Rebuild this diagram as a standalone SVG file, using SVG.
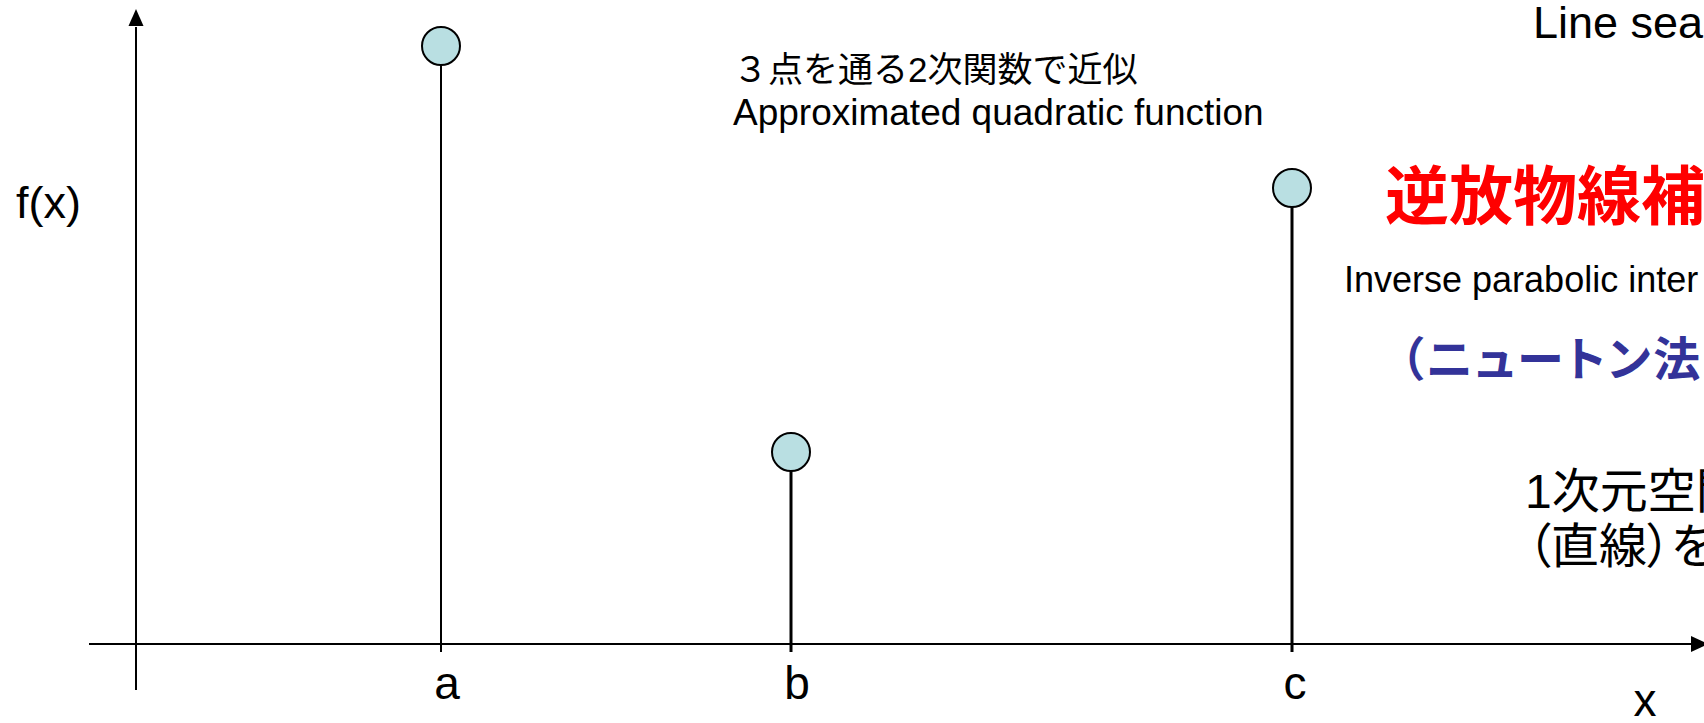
<svg xmlns="http://www.w3.org/2000/svg" width="1704" height="723" viewBox="0 0 1704 723">
<defs>
<style>
.lat{font-family:"Liberation Sans",Arial,sans-serif;fill:#000}
.jp{font-family:"Liberation Sans","Noto Sans CJK JP",sans-serif;fill:#000}
.palt{font-feature-settings:"palt" 1}
.axis{stroke:#000;stroke-width:2;fill:none}
.stem{stroke:#000;fill:none}
.pt{fill:#B9DFE2;stroke:#000;stroke-width:2}
</style>
</defs>
<rect width="1704" height="723" fill="#fff"/>
<g id="connectors">
<path d="M136,690 V27" class="axis"/>
<path d="M136,9 L143.5,26 L128.5,26 z" fill="#000"/>
<path d="M89,644 H1692" class="axis"/>
<path d="M1708,644 L1691,636 L1691,652 z" fill="#000"/>
</g>
<g id="point-a">
<line x1="441" y1="64" x2="441" y2="652" class="stem" stroke-width="2"/>
<circle cx="441" cy="46" r="19" class="pt"/>
<text x="447" y="699" class="lat" font-size="46" text-anchor="middle">a</text>
</g>
<g id="point-b">
<line x1="791" y1="470" x2="791" y2="652" class="stem" stroke-width="3"/>
<circle cx="791" cy="452" r="19" class="pt"/>
<text x="797" y="699" class="lat" font-size="46" text-anchor="middle">b</text>
</g>
<g id="point-c">
<line x1="1292" y1="206" x2="1292" y2="652" class="stem" stroke-width="3"/>
<circle cx="1292" cy="188" r="19" class="pt"/>
<text x="1295" y="699" class="lat" font-size="46" text-anchor="middle">c</text>
</g>
<g id="axis-labels">
<text x="16" y="218" class="lat" font-size="45">f(x)</text>
<text x="1645" y="716" class="lat" font-size="46" text-anchor="middle">x</text>
</g>
<g id="quad-label">
<text x="733" y="82" class="jp" font-size="35">３点を通る2次関数で近似</text>
<text x="733" y="125" class="lat" font-size="37">Approximated quadratic function</text>
</g>
<g id="title">
<text x="1533" y="38" class="lat" font-size="45">Line sea</text>
<text x="1385" y="219" class="jp" font-size="64" font-weight="bold" style="fill:#FF0000">逆放物線補</text>
<text x="1344" y="292" class="lat" font-size="36">Inverse parabolic inter</text>
<text x="1400" y="376" class="jp palt" font-size="47" font-weight="bold" letter-spacing="2.6" style="fill:#333399">（ニュートン法</text>
<text x="1525" y="508" class="jp" font-size="48">1次元空間</text>
<text x="1527" y="563" class="jp palt" font-size="48">（直線）を</text>
</g>
</svg>
